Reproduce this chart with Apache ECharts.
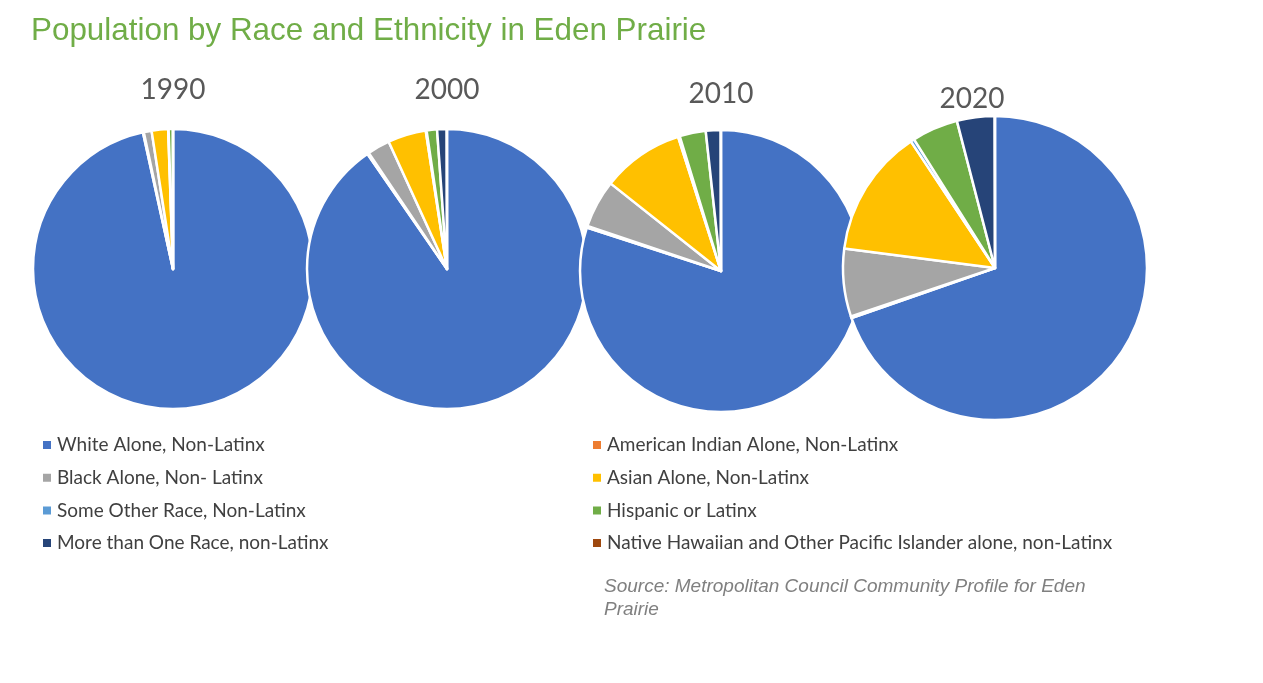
<!DOCTYPE html>
<html>
<head>
    <meta charset="utf-8">
    <title>Population by Race and Ethnicity in Eden Prairie</title>
    <style>
        html,body,#chart{
            height: 100%;
            width: 100%;
            padding: 0;
            margin: 0;
            background: #fff;
        }
    </style>
</head>
<body>
    <div id="chart"></div>
    <script src="https://cdn.jsdelivr.net/npm/echarts@6/dist/echarts.min.js"></script>
    <script>
        // categories in legend / slice order
        var categories = [
            'White Alone, Non-Latinx',
            'American Indian Alone, Non-Latinx',
            'Black Alone, Non- Latinx',
            'Asian Alone, Non-Latinx',
            'Some Other Race, Non-Latinx',
            'Hispanic or Latinx',
            'More than One Race, non-Latinx',
            'Native Hawaiian and Other Pacific Islander alone, non-Latinx'
        ]
        var colors = ['#4472C4', '#ED7D31', '#A5A5A5', '#FFC000', '#5B9BD5', '#70AD47', '#264478', '#9E480E']

        var years = ['1990', '2000', '2010', '2020']
        // percent of population
        var v1990 = [96.6, 0.1, 0.9, 1.9, 0.05, 0.5, 0, 0]
        var v2000 = [90.3, 0.2, 2.6, 4.4, 0.1, 1.2, 1.1, 0.03]
        var v2010 = [80.0, 0.2, 5.5, 9.4, 0.2, 3.0, 1.7, 0.03]
        var v2020 = [69.6, 0.2, 7.2, 13.6, 0.4, 4.9, 4.0, 0.03]
        var values = [v1990, v2000, v2010, v2020]

        // layout of each pie
        var pieCenters = [[173, 269], [447, 269], [721, 271], [995, 268]]
        var pieRadius = [140, 140, 141, 152]
        var yearPos = [[168, 71], [442, 71], [716, 75], [967, 80]]

        var chart = echarts.init(document.getElementById('chart'))

        var titles = [{
            text: 'Population by Race and Ethnicity in Eden Prairie',
            left: 26, top: 11,
            textStyle: {fontFamily: 'Liberation Sans', fontSize: 31.4, fontWeight: 'normal', color: '#70AD47'}
        }]
        years.forEach(function(y, i){
            titles.push({
                text: y,
                left: yearPos[i][0], top: yearPos[i][1],
                textAlign: 'center',
                textStyle: {fontFamily: 'Lato', fontSize: 28, fontWeight: 'normal', color: '#595959', lineHeight: 28}
            })
        })
        titles.push({
            text: 'Source: Metropolitan Council Community Profile for Eden\nPrairie',
            left: 599, top: 570,
            textStyle: {fontFamily: 'Liberation Sans', fontSize: 19, fontStyle: 'italic', fontWeight: 'normal', color: '#808080', lineHeight: 23}
        })

        var series = years.map(function(y, i){
            return {
                name: y,
                type: 'pie',
                center: pieCenters[i],
                radius: pieRadius[i],
                startAngle: 90,
                clockwise: true,
                avoidLabelOverlap: false,
                label: {show: false},
                labelLine: {show: false},
                emphasis: {disabled: true},
                itemStyle: {borderColor: '#fff', borderWidth: 2.5},
                data: categories.map(function(c, k){
                    return {name: c, value: values[i][k], itemStyle: {color: colors[k]}}
                })
            }
        })

        var legendText = {fontFamily: 'Lato', fontSize: 19, color: '#404040', lineHeight: 20}

        chart.setOption({
            animation: false,
            color: colors,
            title: titles,
            legend: [{
                orient: 'vertical', left: 36, top: 430,
                icon: 'rect', itemWidth: 10, itemHeight: 10, itemGap: 12.7,
                textStyle: legendText,
                selectedMode: false,
                data: [categories[0], categories[2], categories[4], categories[6]]
            }, {
                orient: 'vertical', left: 586, top: 430,
                icon: 'rect', itemWidth: 10, itemHeight: 10, itemGap: 12.7,
                textStyle: legendText,
                selectedMode: false,
                data: [categories[1], categories[3], categories[5], categories[7]]
            }],
            series: series
        })
    </script>
</body>
</html>
